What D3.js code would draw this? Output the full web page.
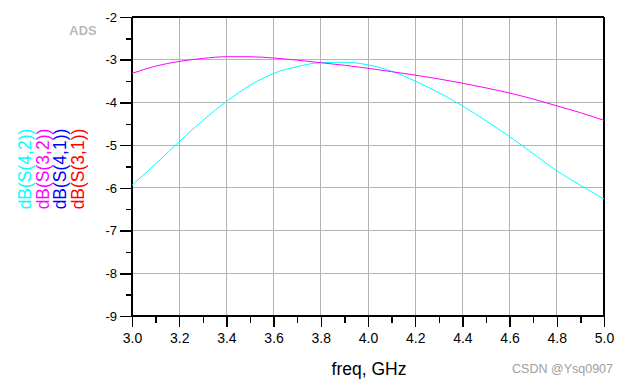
<!DOCTYPE html>
<html><head><meta charset="utf-8">
<script src="https://cdn.jsdelivr.net/npm/d3@7"></script>
<style>body{margin:0;background:#fff;}svg{display:block;font-family:Arial,"Liberation Sans",sans-serif;}</style>
</head><body>
<svg id="c" width="628" height="385"></svg>
<script>
// Data
const freq = [3.0,3.1,3.2,3.3,3.4,3.5,3.6,3.7,3.8,3.9,4.0,4.1,4.2,4.3,4.4,4.5,4.6,4.7,4.8,4.9,5.0];
const s42 = [-5.94,-5.44,-4.92,-4.42,-3.98,-3.60,-3.32,-3.16,-3.07,-3.06,-3.12,-3.27,-3.50,-3.77,-4.08,-4.43,-4.80,-5.20,-5.60,-5.94,-6.26];
const s32 = [-3.32,-3.15,-3.04,-2.97,-2.93,-2.93,-2.96,-3.01,-3.07,-3.13,-3.20,-3.28,-3.36,-3.45,-3.55,-3.66,-3.78,-3.92,-4.08,-4.24,-4.42];
const xTicks = [3.0,3.2,3.4,3.6,3.8,4.0,4.2,4.4,4.6,4.8,5.0];
const xMinor = [3.1,3.3,3.5,3.7,3.9,4.1,4.3,4.5,4.7,4.9];
const yTicks = [-2,-3,-4,-5,-6,-7,-8,-9];
const yMinor = [-2.5,-3.5,-4.5,-5.5,-6.5,-7.5,-8.5];
const legendLabels = ["dB(S(4,2))","dB(S(3,2))","dB(S(4,1))","dB(S(3,1))"];
const legendColors = ["#00ffff","#ff00ff","#0000ff","#ff0000"];

const svg = d3.select("#c");
const L=132, R=604, T=17, B=316;
const x = d3.scaleLinear().domain([3,5]).range([L,R]);
const y = d3.scaleLinear().domain([-9,-2]).range([B,T]);

// grid
const g = svg.append("g").attr("shape-rendering","crispEdges");
g.selectAll(".gx").data(xTicks.slice(1,-1)).enter().append("line")
 .attr("x1",d=>x(d)).attr("x2",d=>x(d)).attr("y1",T).attr("y2",B)
 .attr("stroke","#b4b4b4").attr("stroke-width",1);
g.selectAll(".gy").data(yTicks.slice(1,-1)).enter().append("line")
 .attr("x1",L).attr("x2",R).attr("y1",d=>y(d)).attr("y2",d=>y(d))
 .attr("stroke","#b4b4b4").attr("stroke-width",1);

// frame top/right
g.append("line").attr("x1",L).attr("x2",R).attr("y1",T).attr("y2",T).attr("stroke","#000").attr("stroke-width",1.5);
g.append("line").attr("x1",R).attr("x2",R).attr("y1",T).attr("y2",B).attr("stroke","#000").attr("stroke-width",1.5);

// curves
const line = d3.line().x((d,i)=>x(freq[i])).y(d=>y(d)).curve(d3.curveMonotoneX);
svg.append("path").datum(s42).attr("d",line).attr("fill","none").attr("stroke","#00ffff").attr("stroke-width",1);
svg.append("path").datum(s32).attr("d",line).attr("fill","none").attr("stroke","#ff00ff").attr("stroke-width",1);

// axes
function style(sel){
  sel.attr("shape-rendering","crispEdges");
  sel.select(".domain").remove();
  sel.selectAll(".tick line").attr("stroke","#000").attr("stroke-width",1.5);
}
const fmtY = d=>String(d);
const ax = svg.append("g").attr("transform",`translate(0,${B})`)
 .call(d3.axisBottom(x).tickValues(xTicks).tickFormat(d3.format(".1f")).tickSize(11).tickPadding(6));
style(ax);
ax.selectAll("text").attr("font-size",14).attr("fill","#000").attr("font-family","Arial,'Liberation Sans',sans-serif");
const axm = svg.append("g").attr("transform",`translate(0,${B})`)
 .call(d3.axisBottom(x).tickValues(xMinor).tickFormat("").tickSize(7));
style(axm);

const ay = svg.append("g").attr("transform",`translate(${L},0)`)
 .call(d3.axisLeft(y).tickValues(yTicks).tickFormat(fmtY).tickSize(12).tickPadding(3));
style(ay);
ay.selectAll("text").attr("font-size",13).attr("fill","#000").attr("font-family","Arial,'Liberation Sans',sans-serif");
const aym = svg.append("g").attr("transform",`translate(${L},0)`)
 .call(d3.axisLeft(y).tickValues(yMinor).tickFormat("").tickSize(6));
style(aym);

// axis lines left/bottom
g.append("line").attr("x1",L).attr("x2",L).attr("y1",T).attr("y2",B).attr("stroke","#000").attr("stroke-width",2);
g.append("line").attr("x1",L).attr("x2",R).attr("y1",B).attr("y2",B).attr("stroke","#000").attr("stroke-width",2);

// x label
svg.append("text").attr("x",369).attr("y",375).attr("text-anchor","middle")
 .attr("font-size",17.5).attr("fill","#000").text("freq, GHz");

// legend (rotated)
const legX = [31,48.5,66,84];
svg.selectAll(".leg").data(legendLabels).enter().append("text")
 .attr("transform",(d,i)=>`translate(${legX[i]},169) rotate(-90)`)
 .attr("text-anchor","middle").attr("font-size",17.5)
 .attr("fill",(d,i)=>legendColors[i]).text(d=>d);

// ADS logo
const defs = svg.append("defs");
defs.append("filter").attr("id","blur").append("feGaussianBlur").attr("stdDeviation",0.6);
svg.append("text").attr("x",83).attr("y",35).attr("text-anchor","middle")
 .attr("font-size",13).attr("font-weight","bold").attr("fill","#b8b8b8")
 .attr("filter","url(#blur)").text("ADS");

// watermark
svg.append("text").attr("x",613).attr("y",373).attr("text-anchor","end")
 .attr("font-size",12.5).attr("fill","#a0a0a0").text("CSDN @Ysq0907");
</script>
</body></html>
